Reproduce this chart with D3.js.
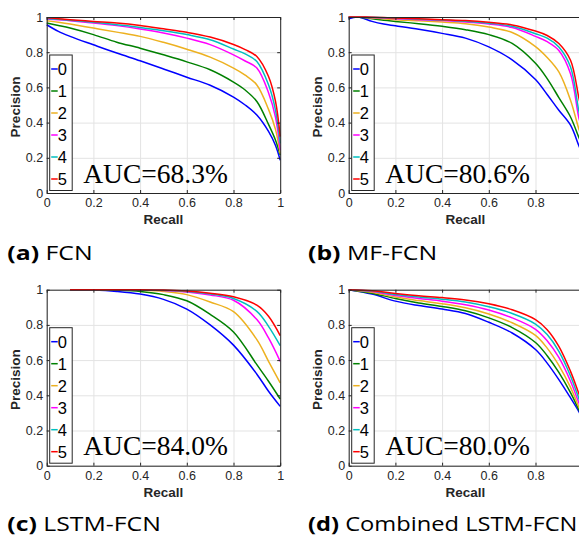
<!DOCTYPE html>
<html><head><meta charset="utf-8">
<script src="https://cdn.jsdelivr.net/npm/d3@7"></script>
<style>body{margin:0;background:#fff;} svg{display:block;}</style>
</head><body>
<svg id="chart" width="579" height="540"></svg>
<script>
// ---- data ----
const classes = ["0","1","2","3","4","5"];
const colors = ["#0000ff","#008000","#edb120","#ff00ff","#00bfbf","#ff0000"];
const tickVals = [0,0.2,0.4,0.6,0.8,1];

const panelNames = ["(a)","(b)","(c)","(d)"];
const panelTitles = ["FCN","MF-FCN","LSTM-FCN","Combined LSTM-FCN"];
const aucLabels = ["AUC=68.3%","AUC=80.6%","AUC=84.0%","AUC=80.0%"];

const recallFCN = [0,0.05,0.1,0.2,0.3,0.4,0.5,0.6,0.7,0.8,0.85,0.9,0.95,0.98,1];
const precFCN = [
  [.956,.918,.89,.842,.795,.751,.705,.658,.612,.545,.50,.443,.35,.27,.186],
  [.966,.952,.937,.90,.857,.823,.785,.745,.70,.63,.585,.52,.39,.30,.215],
  [.979,.970,.96,.937,.914,.89,.856,.817,.772,.71,.67,.614,.475,.36,.224],
  [.989,.984,.979,.966,.951,.932,.909,.88,.843,.785,.75,.71,.57,.43,.243],
  [.992,.987,.981,.97,.956,.941,.922,.90,.871,.818,.79,.747,.615,.47,.282],
  [.996,.99,.985,.975,.966,.952,.933,.913,.886,.844,.815,.776,.662,.52,.32]
];

const recallMF = [0,0.04,0.1,0.15,0.2,0.3,0.4,0.5,0.6,0.7,0.8,0.85,0.9,0.95,0.985,1];
const precMF = [
  [.99,1,.975,.96,.95,.93,.907,.88,.83,.757,.645,.56,.47,.385,.271,.22],
  [1,1,.99,.982,.975,.962,.947,.928,.90,.85,.737,.65,.542,.432,.318,.27],
  [1,1,.994,.99,.985,.979,.971,.962,.943,.912,.832,.77,.688,.527,.367,.31],
  [1,1,.997,.994,.99,.985,.98,.972,.96,.94,.89,.86,.81,.678,.432,.36],
  [1,1,.998,.996,.993,.988,.983,.976,.965,.947,.905,.88,.83,.716,.47,.39],
  [1,1,.999,.997,.995,.99,.985,.98,.97,.955,.92,.895,.849,.754,.545,.45]
];

const recallLSTM = [0.1,0.2,0.3,0.4,0.5,0.6,0.7,0.8,0.9,0.95,1];
const precLSTM = [
  [1,.998,.99,.975,.945,.89,.80,.685,.52,.423,.337],
  [1,1,.997,.99,.972,.937,.86,.76,.574,.48,.379],
  [1,1,1,.997,.99,.972,.93,.875,.716,.593,.47],
  [1,1,1,1,.995,.987,.97,.94,.83,.726,.593],
  [1,1,1,1,.997,.99,.976,.95,.877,.792,.682],
  [1,1,1,1,.998,.992,.98,.96,.912,.849,.739]
];

const recallComb = [0,0.1,0.2,0.3,0.4,0.5,0.6,0.7,0.8,0.85,0.9,0.95,0.985,1];
const precComb = [
  [1,.975,.935,.91,.89,.865,.815,.754,.66,.583,.489,.385,.309,.27],
  [1,.98,.95,.925,.905,.88,.84,.785,.70,.625,.53,.415,.32,.28],
  [1,.985,.958,.938,.92,.897,.862,.812,.74,.668,.57,.445,.335,.29],
  [1,.99,.967,.95,.935,.915,.885,.84,.775,.71,.615,.48,.36,.31],
  [1,.992,.973,.958,.946,.93,.903,.865,.805,.745,.65,.51,.385,.33],
  [1,.994,.978,.965,.955,.942,.92,.886,.83,.773,.678,.536,.413,.36]
];

const recalls = [recallFCN, recallMF, recallLSTM, recallComb];
const precs = [precFCN, precMF, precLSTM, precComb];

// ---- layout ----
const svg = d3.select("#chart");
const SVG_W = 579;
const W = 233.5, H = 176;
const origins = [[46.7,17],[348.7,17],[46.7,289.7],[348.7,289.7]];
const captionPos = [[7.3,260],[308,260],[7.3,531],[308,531]];
const axisColor = "#262626";
const tickFont = "'Liberation Sans', Arial, Helvetica, sans-serif";

const fmt = d => (d === 0 || d === 1) ? String(d) : d.toFixed(1);

const captions = [];

for (let p = 0; p < 4; p++) {
  const [ox, oy] = origins[p];
  const g = svg.append("g").attr("transform", `translate(${ox},${oy})`);
  const x = d3.scaleLinear().domain([0,1]).range([0,W]);
  const y = d3.scaleLinear().domain([0,1]).range([H,0]);

  // grid
  g.append("g").attr("transform", `translate(0,${H})`)
    .call(d3.axisBottom(x).tickValues(tickVals).tickSize(-H).tickFormat(""))
    .call(s => { s.select(".domain").remove(); s.selectAll("line").attr("stroke","#e3e3e3").attr("stroke-width",1); });
  g.append("g")
    .call(d3.axisLeft(y).tickValues(tickVals).tickSize(-W).tickFormat(""))
    .call(s => { s.select(".domain").remove(); s.selectAll("line").attr("stroke","#e3e3e3").attr("stroke-width",1); });

  // curves
  const line = d3.line().x((d,i) => x(recalls[p][i])).y(d => y(d)).curve(d3.curveCatmullRom.alpha(0.5));
  precs[p].forEach((series, k) => {
    g.append("path").datum(series).attr("d", line)
      .attr("fill","none").attr("stroke", colors[k]).attr("stroke-width",1.5)
      .attr("stroke-linejoin","round");
  });

  // axes with inward ticks (labels only where they fall on the page)
  const visibleX = tickVals.filter(v => ox + x(v) + 4 < SVG_W);
  const ax = g.append("g").attr("transform", `translate(0,${H})`)
    .call(d3.axisBottom(x).tickValues(visibleX).tickSizeInner(-3).tickSizeOuter(0).tickPadding(5.5).tickFormat(fmt));
  const ay = g.append("g")
    .call(d3.axisLeft(y).tickValues(tickVals).tickSizeInner(-3).tickSizeOuter(0).tickPadding(3.5).tickFormat(fmt));
  const ax2 = g.append("g")
    .call(d3.axisTop(x).tickValues(tickVals).tickSizeInner(-3).tickSizeOuter(0).tickFormat(""));
  const ay2 = g.append("g").attr("transform", `translate(${W},0)`)
    .call(d3.axisRight(y).tickValues(tickVals).tickSizeInner(-3).tickSizeOuter(0).tickFormat(""));
  [ax, ay, ax2, ay2].forEach(a => {
    a.select(".domain").attr("stroke", axisColor).attr("stroke-width",1);
    a.selectAll(".tick line").attr("stroke", axisColor);
    a.selectAll("text").attr("fill", axisColor).style("font-family", tickFont).style("font-size","12.5px");
  });

  // axis labels
  g.append("text").attr("x", W/2).attr("y", H + 31.3).attr("text-anchor","middle")
    .style("font-family", tickFont).style("font-size","13.5px").style("font-weight","bold")
    .attr("fill", axisColor).text("Recall");
  g.append("text").attr("transform", `translate(${-27},${H/2 + 2}) rotate(-90)`).attr("text-anchor","middle")
    .style("font-family", tickFont).style("font-size","13.5px").style("font-weight","bold")
    .attr("fill", axisColor).text("Precision");

  // legend
  const lg = g.append("g").attr("transform", `translate(3,38)`);
  lg.append("rect").attr("x",0).attr("y",0).attr("width",22.5).attr("height",135.5)
    .attr("fill","#fff").attr("stroke", axisColor).attr("stroke-width",1);
  classes.forEach((c, k) => {
    const cy = 14 + k * 22;
    lg.append("line").attr("x1",1.5).attr("x2",8).attr("y1",cy).attr("y2",cy)
      .attr("stroke", colors[k]).attr("stroke-width",1.5);
    lg.append("text").attr("x",8).attr("y",cy + 6).text(c)
      .style("font-family", tickFont).style("font-size","16.5px").attr("fill","#000");
  });

  // AUC text
  g.append("text").attr("x", 36.5).attr("y", H - 10.5).text(aucLabels[p])
    .style("font-family","'Liberation Serif','Times New Roman',serif").style("font-size","27.5px").attr("fill","#000");

  // caption
  const cap = svg.append("text")
    .style("font-family","'Open Sans', Lato, sans-serif").style("font-size","19.5px").attr("fill","#000");
  cap.append("tspan").style("font-weight","bold").text(panelNames[p]);
  cap.append("tspan").text(" " + panelTitles[p]);
  captions.push(cap);
}

// captions in the reference are set wider than the available fonts: stretch horizontally,
// but keep each caption inside the page
const refWidth = 85.4; // width of "(a) FCN"
const natural = captions[0].node().getComputedTextLength();
const sx = natural > 0 ? refWidth / natural : 1;
captions.forEach((c, p) => {
  const w = c.node().getComputedTextLength();
  const maxSx = (SVG_W - 1.5 - captionPos[p][0]) / w;
  const s = Math.min(sx, maxSx);
  c.attr("transform", `translate(${captionPos[p][0]},${captionPos[p][1]}) scale(${s},1)`);
});
</script>
</body></html>
